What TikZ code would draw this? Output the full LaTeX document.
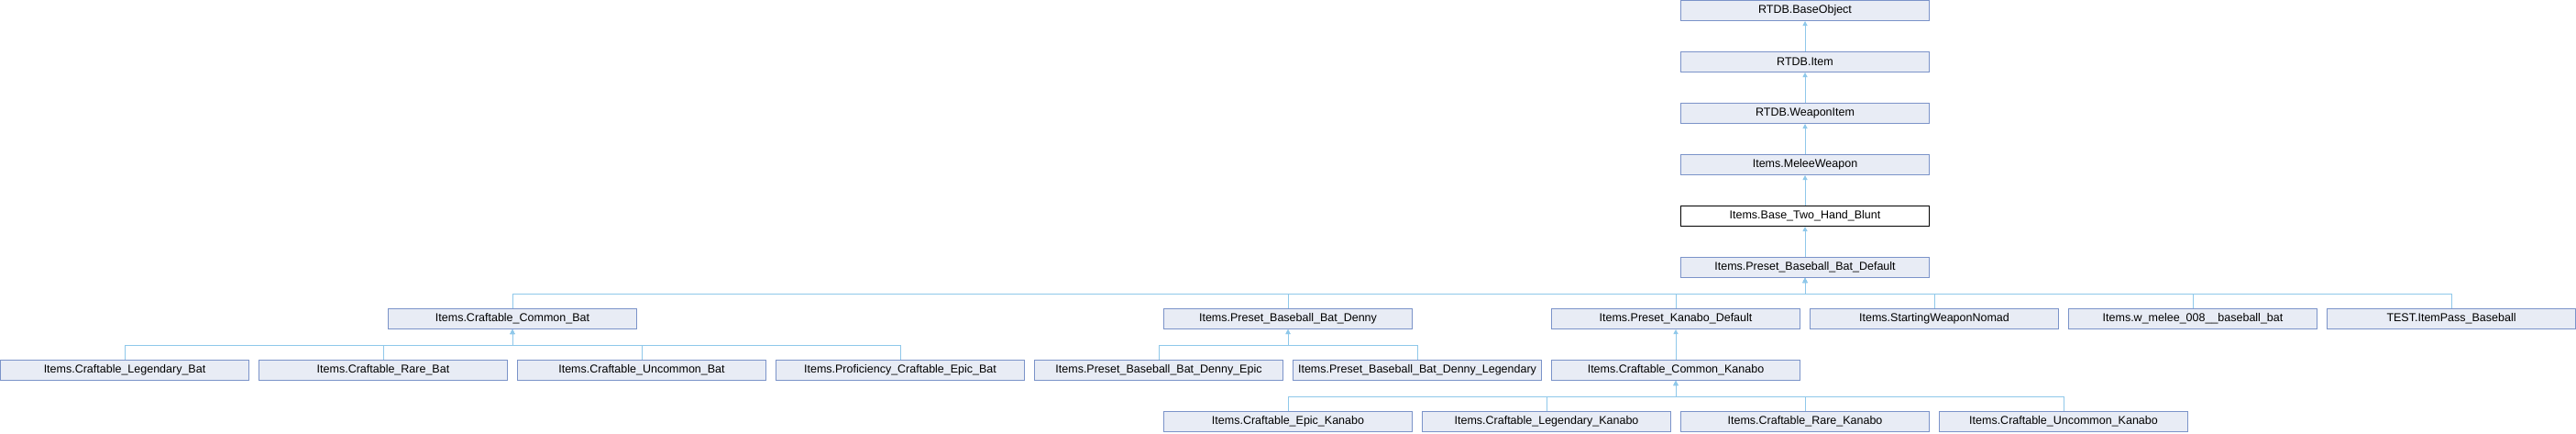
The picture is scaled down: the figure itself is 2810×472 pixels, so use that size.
\documentclass[tikz,border=0pt]{standalone}
\usepackage{fontspec}
\setmainfont{Liberation Sans}
\usetikzlibrary{arrows.meta}
\definecolor{boxfill}{HTML}{E8ECF5}
\definecolor{boxline}{HTML}{7B93C9}
\definecolor{edgec}{HTML}{8FC8EA}
\tikzset{
  cls/.style={draw=boxline, fill=boxfill, line width=1pt, minimum width=271pt, minimum height=22pt, inner sep=0pt, font=\fontsize{12.5}{14}\selectfont},
  cur/.style={cls, draw=black, fill=white},
  inh/.style={draw=edgec, line width=1pt, {Triangle[length=5pt,width=5pt]}-},
}
\begin{document}
\begin{tikzpicture}[x=1pt,y=-1pt]
\useasboundingbox (0,0) rectangle (2810,472);
% rows: top y = 0,56,...; centre y = top+11.5 ; columns: left = 282k, centre = 282k+136
\node[cls] (baseobj) at (1969,11.5) {RTDB.BaseObject};
\node[cls] (item) at (1969,67.5) {RTDB.Item};
\node[cls] (weapon) at (1969,123.5) {RTDB.WeaponItem};
\node[cls] (melee) at (1969,179.5) {Items.MeleeWeapon};
\node[cur] (blunt) at (1969,235.5) {Items.Base\_Two\_Hand\_Blunt};
\node[cls] (bbdef) at (1969,291.5) {Items.Preset\_Baseball\_Bat\_Default};
% row 6
\node[cls] (cbat) at (559,347.5) {Items.Craftable\_Common\_Bat};
\node[cls] (denny) at (1405,347.5) {Items.Preset\_Baseball\_Bat\_Denny};
\node[cls] (kandef) at (1828,347.5) {Items.Preset\_Kanabo\_Default};
\node[cls] (nomad) at (2110,347.5) {Items.StartingWeaponNomad};
\node[cls] (wmelee) at (2392,347.5) {Items.w\_melee\_008\_\_baseball\_bat};
\node[cls] (test) at (2674,347.5) {TEST.ItemPass\_Baseball};
% row 7
\node[cls] (legbat) at (136,403.5) {Items.Craftable\_Legendary\_Bat};
\node[cls] (rarebat) at (418,403.5) {Items.Craftable\_Rare\_Bat};
\node[cls] (uncbat) at (700,403.5) {Items.Craftable\_Uncommon\_Bat};
\node[cls] (profbat) at (982,403.5) {Items.Proficiency\_Craftable\_Epic\_Bat};
\node[cls] (dennyepic) at (1264,403.5) {Items.Preset\_Baseball\_Bat\_Denny\_Epic};
\node[cls] (dennyleg) at (1546,403.5) {Items.Preset\_Baseball\_Bat\_Denny\_Legendary};
\node[cls] (ckan) at (1828,403.5) {Items.Craftable\_Common\_Kanabo};
% row 8
\node[cls] (epickan) at (1405,459.5) {Items.Craftable\_Epic\_Kanabo};
\node[cls] (legkan) at (1687,459.5) {Items.Craftable\_Legendary\_Kanabo};
\node[cls] (rarekan) at (1969,459.5) {Items.Craftable\_Rare\_Kanabo};
\node[cls] (unckan) at (2251,459.5) {Items.Craftable\_Uncommon\_Kanabo};
% edges (arrow at parent)
\foreach \p/\c in {baseobj/item, item/weapon, weapon/melee, melee/blunt, blunt/bbdef,
  bbdef/cbat, bbdef/denny, bbdef/kandef, bbdef/nomad, bbdef/wmelee, bbdef/test,
  cbat/legbat, cbat/rarebat, cbat/uncbat, cbat/profbat,
  denny/dennyepic, denny/dennyleg, kandef/ckan,
  ckan/epickan, ckan/legkan, ckan/rarekan, ckan/unckan}
  \draw[inh] (\p.south) -- ++(0,17) -| (\c.north);
\end{tikzpicture}
\end{document}
